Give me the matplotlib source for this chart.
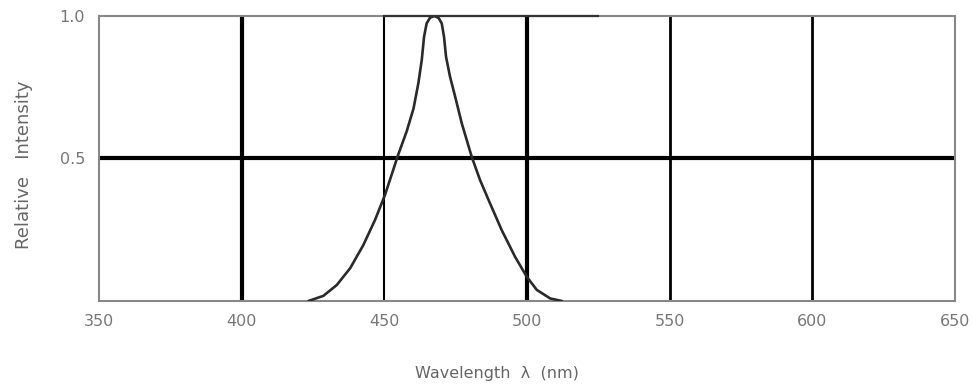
import matplotlib
matplotlib.use("Agg")
import matplotlib.pyplot as plt

# spectrum (wavelength nm, relative intensity)
wavelength = [423.4, 428.6, 433.3, 438.0, 442.6, 446.7, 450.2, 452.6, 454.9, 457.8,
              460.2, 461.9, 463.1, 463.9, 464.8, 466.0, 467.5, 469.0, 470.1, 470.9,
              471.6, 473.0, 474.8, 477.1, 480.6, 483.5, 487.0, 491.1, 495.8, 499.9,
              503.4, 508.1, 512.2]
intensity = [0.0, 0.018, 0.056, 0.115, 0.196, 0.284, 0.372, 0.445, 0.515, 0.595,
             0.675, 0.764, 0.846, 0.927, 0.974, 0.994, 1.0, 0.993, 0.974, 0.927,
             0.857, 0.787, 0.717, 0.624, 0.506, 0.425, 0.343, 0.249, 0.155, 0.085,
             0.039, 0.009, 0.0]

x_ticks = [350, 400, 450, 500, 550, 600, 650]
y_ticks = [0.5, 1.0]
grid_x = [400, 450, 500, 550, 600]
grid_x_width = [3.0, 1.5, 3.0, 2.0, 2.0]

fig = plt.figure(figsize=(9.72, 3.9), dpi=100)
ax = fig.add_axes([0.1019, 0.2282, 0.8807, 0.7308])

for gx, lw in zip(grid_x, grid_x_width):
    ax.axvline(gx, color="black", lw=lw, zorder=1)
ax.axhline(0.5, color="black", lw=3.0, zorder=1)
# darker stretch on the top border
ax.plot([450, 525], [1.0, 1.0], color="#333333", lw=1.6, zorder=4, clip_on=False)

ax.plot(wavelength, intensity, color="#2a2a2a", lw=1.9, zorder=3,
        solid_capstyle="round", solid_joinstyle="round")

ax.set_xlim(350, 650)
ax.set_ylim(0, 1.0)
for s in ax.spines.values():
    s.set_color("#888888")
    s.set_linewidth(1.5)

ax.set_xticks(x_ticks)
ax.set_xticklabels([str(t) for t in x_ticks])
ax.set_yticks(y_ticks)
ax.set_yticklabels(["0.5", "1.0"])
ax.tick_params(axis="x", length=0, labelsize=11.5, pad=9)
ax.tick_params(axis="y", length=0, labelsize=11.5, pad=10)
for lab in ax.get_xticklabels() + ax.get_yticklabels():
    lab.set_family("DejaVu Sans Condensed")
    lab.set_color("#777777")

ax.text(0.465, -0.255, "Wavelength  λ  (nm)", transform=ax.transAxes,
        ha="center", va="center", fontsize=11.5, color="#666666",
        family="DejaVu Sans")
ax.text(-0.088, 0.477, "Relative   Intensity", transform=ax.transAxes,
        ha="center", va="center", rotation=90, fontsize=13, color="#666666",
        family="DejaVu Sans")

fig.savefig("out.png", dpi=100)
